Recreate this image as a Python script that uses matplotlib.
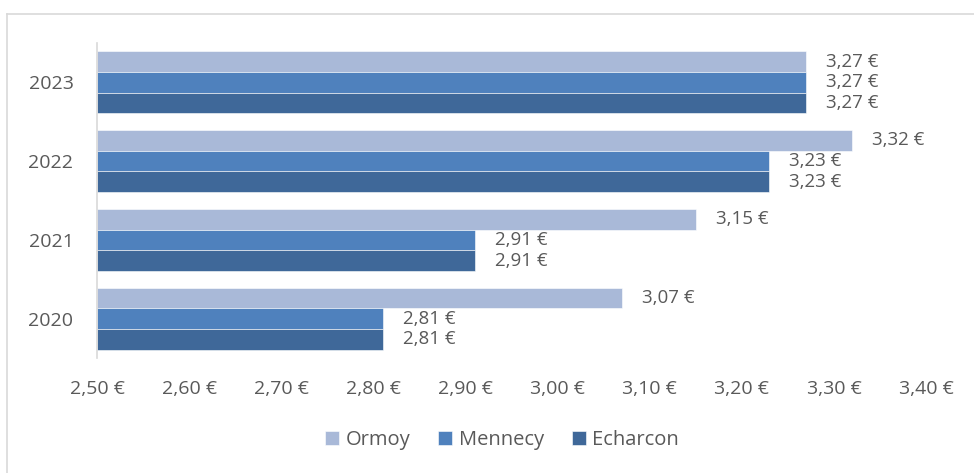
import numpy as np
import matplotlib.pyplot as plt
from matplotlib.lines import Line2D
from matplotlib.ticker import FuncFormatter

plt.rcParams['font.family'] = ['Open Sans', 'DejaVu Sans']

years = ['2020', '2021', '2022', '2023']
series_names = ['Ormoy', 'Mennecy', 'Echarcon']
ormoy = [3.07, 3.15, 3.32, 3.27]
mennecy = [2.81, 2.91, 3.23, 3.27]
echarcon = [2.81, 2.91, 3.23, 3.27]
colors = ['#A9B9D8', '#4F81BD', '#3F6899']

text_color = '#595959'
base = 2.50


def euro(v):
    return f"{v:.2f}".replace('.', ',') + ' €'


fig = plt.figure(figsize=(9.74, 4.73), dpi=100)
ax = fig.add_axes([97 / 974, 1 - 358 / 473, (926 - 97) / 974, (358 - 43) / 473])

# outer chart frame (only left and top edges visible)
fig.add_artist(Line2D([7 / 974, 7 / 974], [0, 1 - 14 / 473], transform=fig.transFigure,
                      color='#D9D9D9', linewidth=1.2))
fig.add_artist(Line2D([7 / 974, 1], [1 - 14 / 473, 1 - 14 / 473], transform=fig.transFigure,
                      color='#D9D9D9', linewidth=1.2))

y = np.arange(len(years))
h = 0.263
offsets = [h, 0, -h]
for vals, name, col, off in zip([ormoy, mennecy, echarcon], series_names, colors, offsets):
    widths = [v - base for v in vals]
    ax.barh(y + off, widths, left=base, height=h, color=col, label=name,
            edgecolor='white', linewidth=0.4)
    for yi, v in zip(y, vals):
        ax.annotate(euro(v), xy=(v, yi + off), xytext=(20, 0), textcoords='offset pixels',
                    ha='left', va='center', fontsize=13.5, color=text_color)

ax.set_xlim(2.50, 3.40)
ax.set_ylim(-0.5, 3.5)
ax.set_xticks(np.arange(2.50, 3.401, 0.10))
ax.xaxis.set_major_formatter(FuncFormatter(lambda v, p: euro(v)))
ax.set_yticks(y)
ax.set_yticklabels(years)

for s in ['top', 'right', 'bottom']:
    ax.spines[s].set_visible(False)
ax.spines['left'].set_color('#D9D9D9')
ax.spines['left'].set_linewidth(1.2)
ax.tick_params(axis='both', length=0, labelsize=14, colors=text_color)
ax.tick_params(axis='x', pad=16)
ax.tick_params(axis='y', pad=17)

leg = fig.legend(loc='center', bbox_to_anchor=(0.5 + 15 / 974, 1 - 440 / 473), ncol=3,
                 frameon=False, fontsize=14.5, handlelength=0.7, handleheight=0.7,
                 handletextpad=0.3, columnspacing=1.4, labelcolor=text_color)

fig.savefig('out.png', dpi=100, facecolor='white')
